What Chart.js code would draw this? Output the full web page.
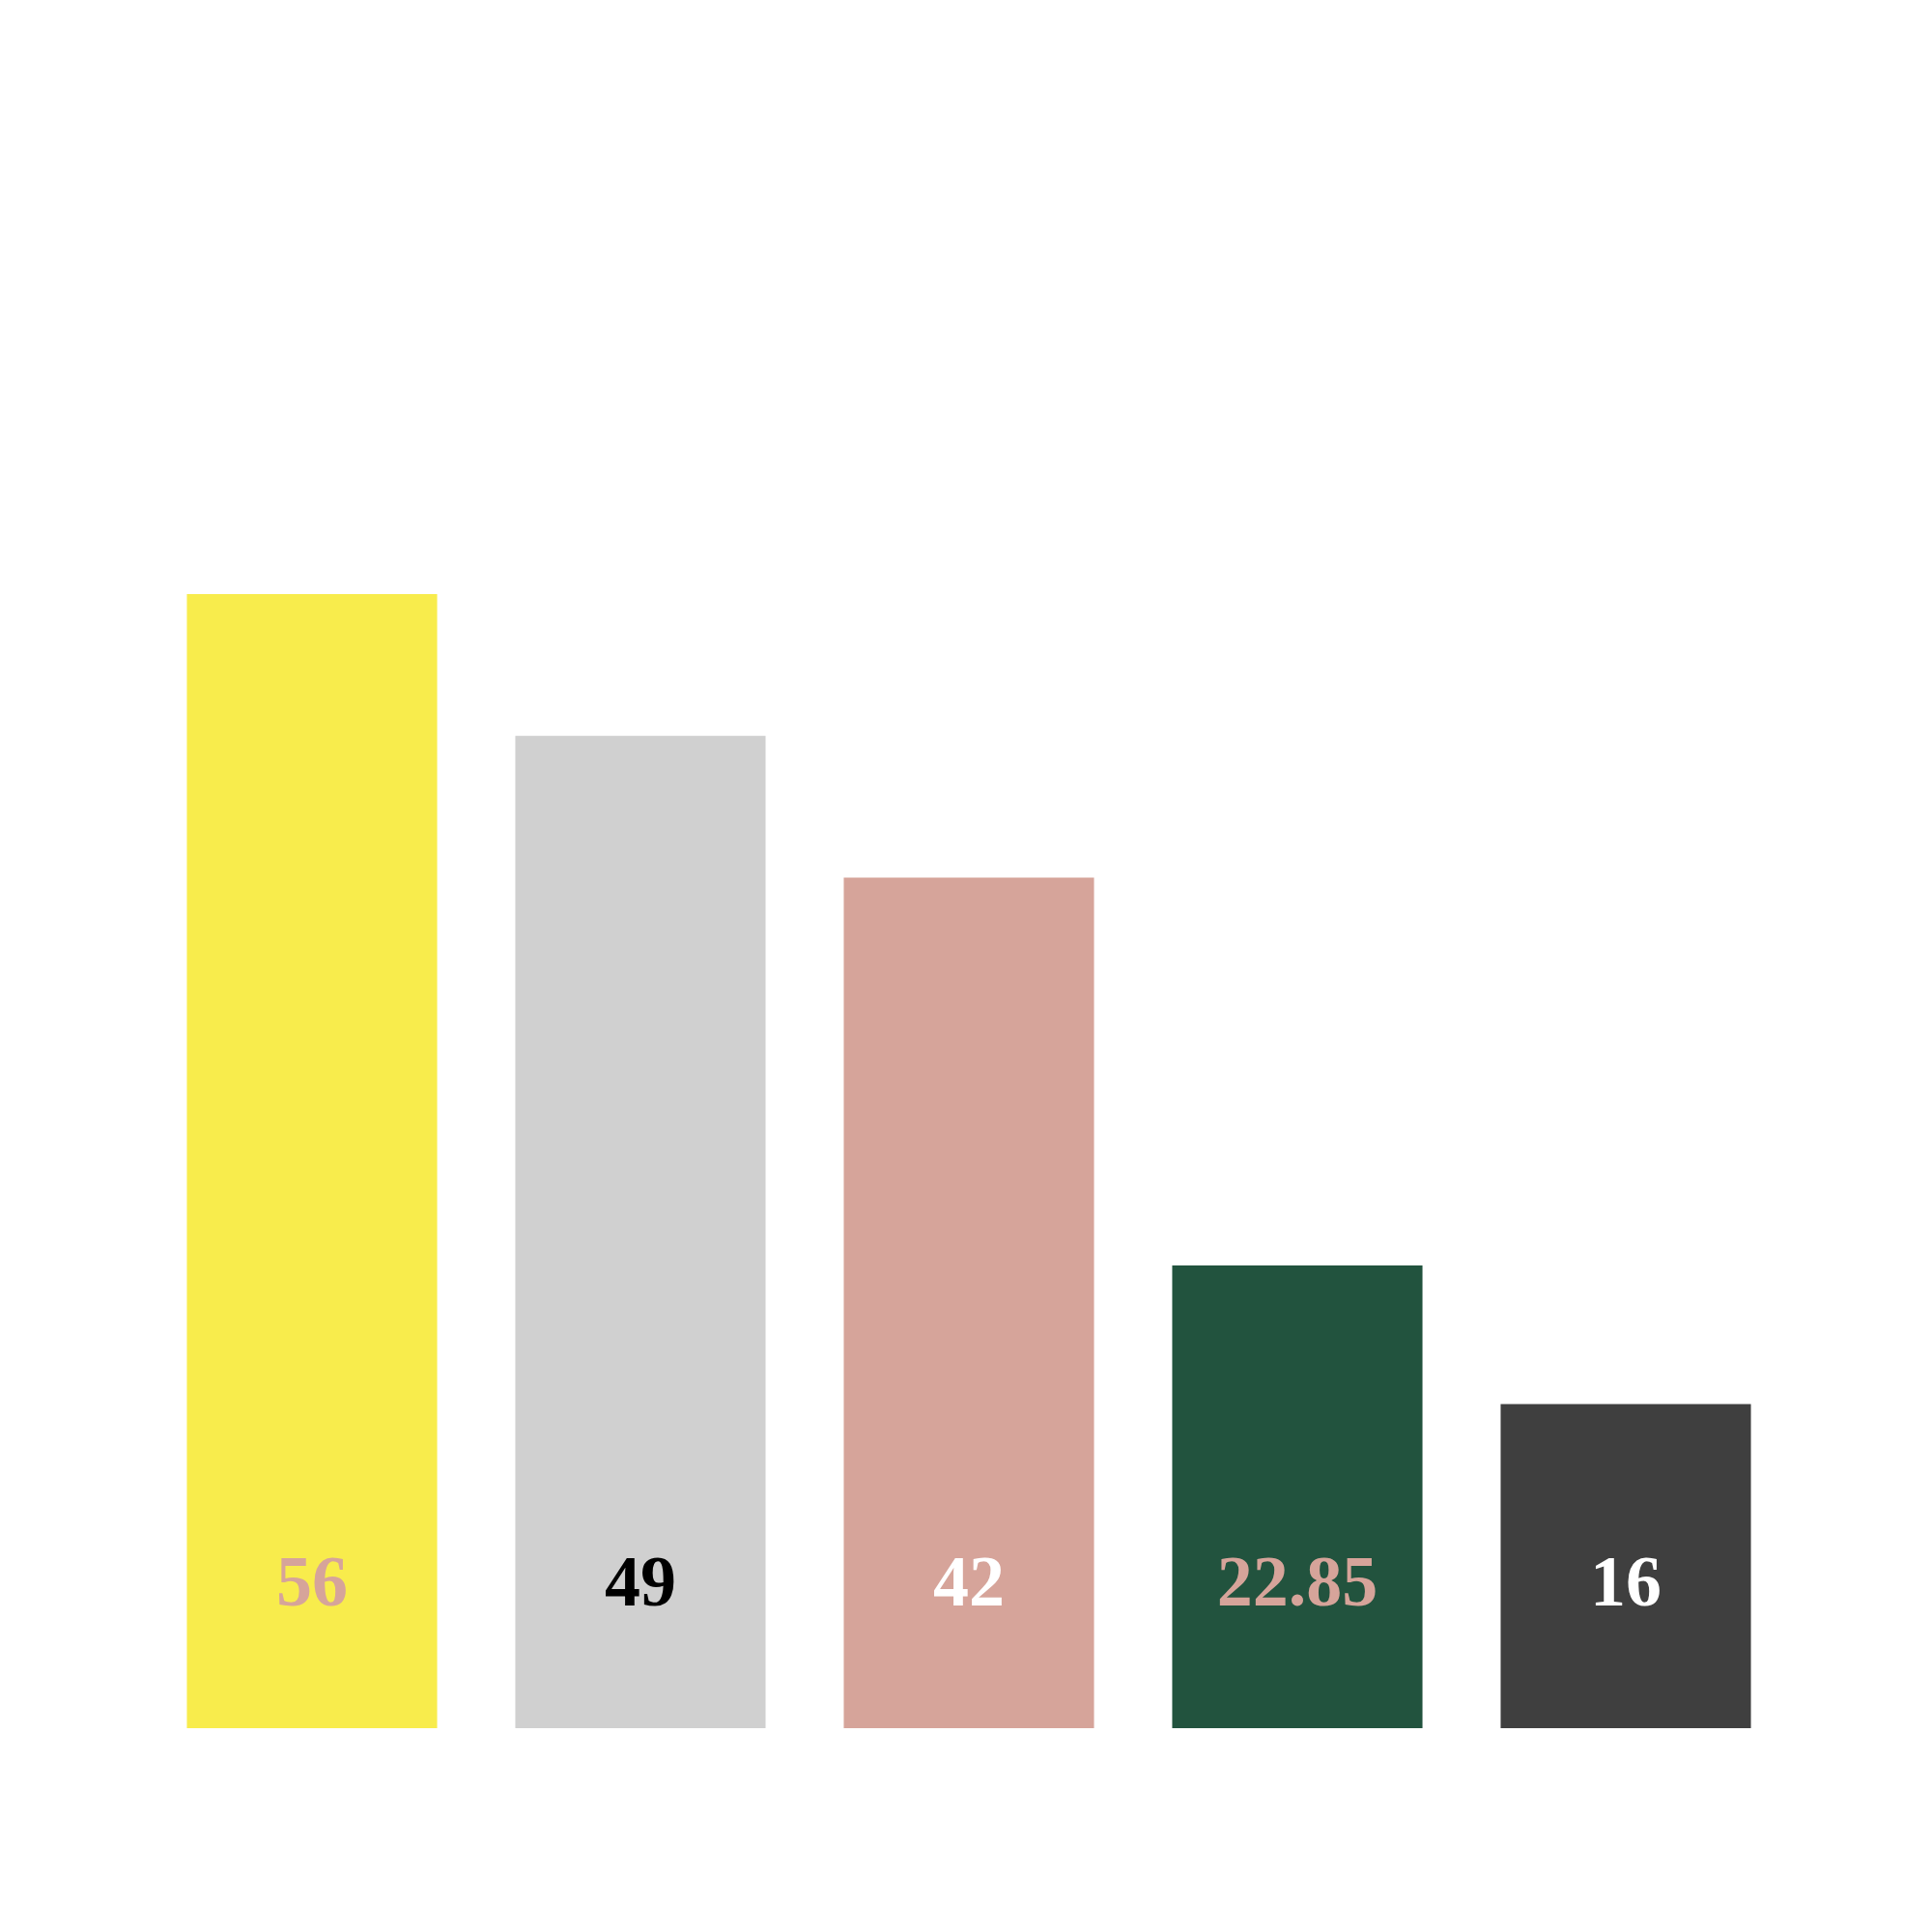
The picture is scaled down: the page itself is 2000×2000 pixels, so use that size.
<!DOCTYPE html>
<html>
<head>
<meta charset="utf-8">
<script src="https://cdn.jsdelivr.net/npm/chart.js@4/dist/chart.umd.min.js"></script>
<style>
  html, body { margin: 0; padding: 0; background: #ffffff; }
  #wrap { width: 2000px; height: 2000px; }
</style>
</head>
<body>
<div id="wrap"><canvas id="chart" width="2000" height="2000"></canvas></div>
<script>
const categories = ['A', 'B', 'C', 'D', 'E'];
const values = [56, 49, 42, 22.85, 16];
const valueLabels = ['56', '49', '42', '22.85', '16'];

const barColors = ['#f8ec4c', '#d0d0d0', '#d6a49a', '#22533e', '#3f3f3f'];
const labelColors = ['#d6a49a', '#000000', '#ffffff', '#d6a49a', '#ffffff'];

// labels sit at a fixed height above the bar base
const barLabels = {
  id: 'barLabels',
  afterDatasetsDraw(chart) {
    const ctx = chart.ctx;
    const meta = chart.getDatasetMeta(0);
    const base = chart.scales.y.getPixelForValue(0);
    ctx.save();
    ctx.font = 'bold 74px "Liberation Serif", "DejaVu Serif", serif';
    ctx.textAlign = 'center';
    ctx.textBaseline = 'alphabetic';
    meta.data.forEach((bar, i) => {
      ctx.fillStyle = labelColors[i];
      ctx.fillText(valueLabels[i], bar.x, base - 127);
    });
    ctx.restore();
  }
};

new Chart(document.getElementById('chart'), {
  type: 'bar',
  data: {
    labels: categories,
    datasets: [{
      data: values,
      backgroundColor: barColors,
      borderWidth: 0,
      barPercentage: 0.762,
      categoryPercentage: 1.0
    }]
  },
  options: {
    responsive: false,
    animation: false,
    devicePixelRatio: 1,
    layout: { padding: { top: 112, bottom: 211, left: 153, right: 147 } },
    plugins: {
      legend: { display: false },
      tooltip: { enabled: false }
    },
    scales: {
      x: { display: false },
      y: { display: false, min: 0, max: 80 }
    }
  },
  plugins: [barLabels]
});
</script>
</body>
</html>
